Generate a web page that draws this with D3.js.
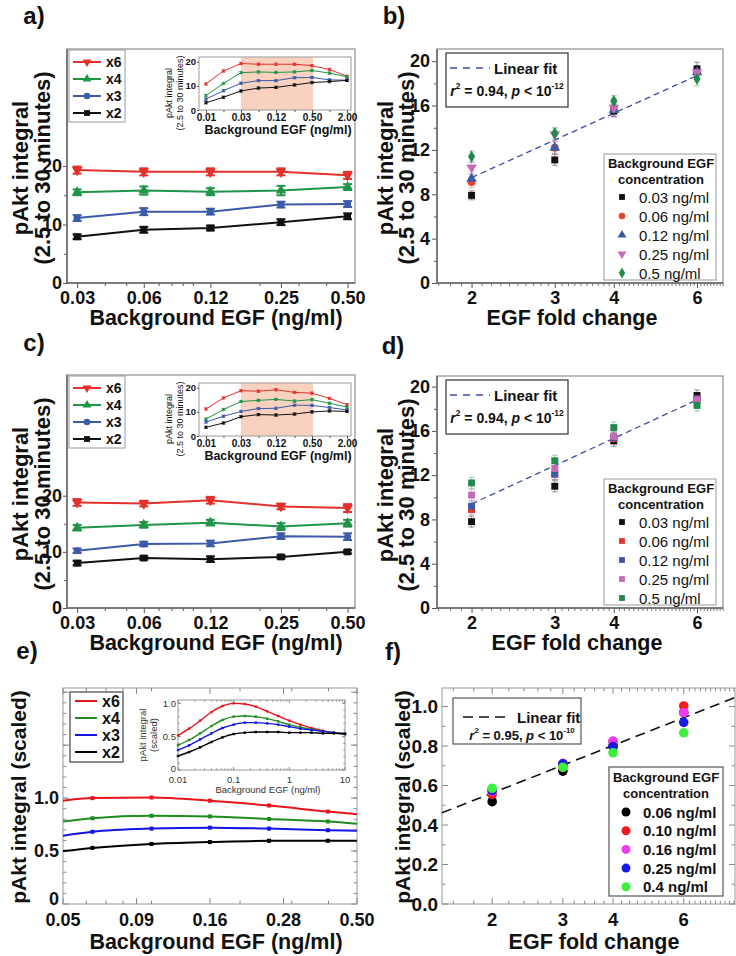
<!DOCTYPE html>
<html><head><meta charset="utf-8">
<script src="https://cdn.jsdelivr.net/npm/d3@7"></script>
<style>body{margin:0;background:#fff}svg{display:block}</style>
</head><body>
<script>
// ================= DATA =================
const concMain = [0.03, 0.06, 0.12, 0.25, 0.5];
const concMainLabels = ["0.03", "0.06", "0.12", "0.25", "0.50"];
const foldNames = ["x6", "x4", "x3", "x2"];
const foldValues = [6, 4, 3, 2];
const foldTicks = [2, 3, 4, 6];

// panel a (main)
const aX6 = [19.3, 19.0, 19.0, 19.0, 18.4];
const aX4 = [15.5, 15.8, 15.6, 15.8, 16.4];
const aX3 = [11.1, 12.2, 12.2, 13.4, 13.5];
const aX2 = [7.9, 9.1, 9.4, 10.4, 11.4];
const aErr6 = [0.6, 0.6, 0.6, 0.6, 0.6];
const aErr4 = [0.5, 0.7, 0.6, 0.8, 0.5];
const aErr3 = [0.5, 0.6, 0.5, 0.5, 0.5];
const aErr2 = [0.4, 0.5, 0.4, 0.5, 0.5];

// insets a / c
const insetConc = [0.0075, 0.015, 0.03, 0.06, 0.12, 0.25, 0.5, 1, 2];
const insetTicks = [0.0075, 0.03, 0.12, 0.5, 2];
const insetTickLabels = ["0.01", "0.03", "0.12", "0.50", "2.00"];
const shadeRange = [0.03, 0.52];
const aInX6 = [10.8, 16.2, 19.3, 19.0, 19.0, 19.0, 18.4, 16.8, 14.0];
const aInX4 = [6.0, 11.0, 15.5, 15.8, 15.6, 15.8, 16.4, 15.3, 13.8];
const aInX3 = [4.5, 8.0, 11.1, 12.2, 12.2, 13.4, 13.5, 12.5, 12.4];
const aInX2 = [3.0, 5.3, 7.9, 9.1, 9.4, 10.4, 11.4, 11.8, 12.3];

// panel c (main)
const cX6 = [18.8, 18.6, 19.2, 18.1, 17.8];
const cX4 = [14.3, 14.8, 15.2, 14.5, 15.1];
const cX3 = [10.2, 11.4, 11.5, 12.8, 12.7];
const cX2 = [8.0, 8.9, 8.7, 9.1, 10.0];
const cErr6 = [0.6, 0.5, 0.6, 0.5, 0.7];
const cErr4 = [0.5, 0.5, 0.5, 0.6, 0.6];
const cErr3 = [0.4, 0.4, 0.5, 0.5, 0.6];
const cErr2 = [0.4, 0.3, 0.5, 0.3, 0.3];
const cInX6 = [11.2, 15.8, 18.8, 18.6, 19.2, 18.1, 17.8, 15.6, 13.0];
const cInX4 = [7.0, 11.0, 14.3, 14.8, 15.2, 14.5, 15.1, 13.6, 12.0];
const cInX3 = [5.8, 8.2, 10.2, 11.4, 11.5, 12.8, 12.7, 11.8, 10.8];
const cInX2 = [3.6, 5.4, 8.0, 8.9, 8.7, 9.1, 10.0, 10.4, 10.2];

// panel d (values at folds 2,3,4,6 for each background concentration)
const concLegend = ["0.03 ng/ml", "0.06 ng/ml", "0.12 ng/ml", "0.25 ng/ml", "0.5 ng/ml"];
const d003 = [7.8, 11.0, 15.1, 19.2];
const d006 = [8.9, 12.1, 15.3, 18.9];
const d012 = [9.2, 12.1, 15.4, 18.9];
const d025 = [10.2, 12.6, 15.5, 18.8];
const d05 = [11.3, 13.3, 16.3, 18.3];
const dErr = [0.5, 0.5, 0.5, 0.5];

// linear fits (value at fold ends)
const fitBX = [2, 6], fitBY = [9.5, 18.7];
const fitDX = [2, 6], fitDY = [9.4, 18.8];

// panel e (model)
const eConc = [0.05, 0.063, 0.1, 0.158, 0.251, 0.398, 0.5];
const eTicks = [0.05, 0.0889, 0.158, 0.281, 0.5];
const eTickLabels = ["0.05", "0.09", "0.16", "0.28", "0.50"];
const eX6 = [0.976, 1.0, 1.006, 0.976, 0.93, 0.873, 0.848];
const eX4 = [0.779, 0.81, 0.833, 0.827, 0.803, 0.779, 0.758];
const eX3 = [0.645, 0.682, 0.712, 0.721, 0.712, 0.697, 0.691];
const eX2 = [0.50, 0.53, 0.567, 0.585, 0.597, 0.597, 0.597];
const eInConc = [0.01, 0.0158, 0.025, 0.04, 0.063, 0.1, 0.158, 0.25, 0.4, 0.63, 1, 1.58, 2.5, 4, 6.3, 10];
const eInX6 = [0.52, 0.62, 0.74, 0.87, 0.96, 1.0, 0.99, 0.95, 0.88, 0.81, 0.74, 0.68, 0.63, 0.59, 0.56, 0.55];
const eInX4 = [0.37, 0.45, 0.55, 0.66, 0.75, 0.80, 0.81, 0.80, 0.77, 0.73, 0.68, 0.64, 0.61, 0.58, 0.56, 0.55];
const eInX3 = [0.30, 0.37, 0.46, 0.55, 0.63, 0.68, 0.71, 0.71, 0.70, 0.68, 0.65, 0.62, 0.60, 0.58, 0.56, 0.54];
const eInX2 = [0.21, 0.27, 0.34, 0.42, 0.49, 0.54, 0.56, 0.57, 0.57, 0.57, 0.56, 0.56, 0.56, 0.55, 0.55, 0.54];

// panel f
const fLegend = ["0.06 ng/ml", "0.10 ng/ml", "0.16 ng/ml", "0.25 ng/ml", "0.4 ng/ml"];
const f006 = [0.518, 0.673, 0.80, 0.97];
const f010 = [0.555, 0.695, 0.822, 1.003];
const f016 = [0.57, 0.712, 0.825, 0.969];
const f025 = [0.575, 0.71, 0.797, 0.92];
const f04 = [0.586, 0.692, 0.766, 0.867];
const fitFX = [1.5, 8.05], fitFY = [0.462, 1.046];

// ================= DRAWING =================
const FONT = "'Liberation Sans', Arial, Helvetica, sans-serif";
const svg = d3.select("body").append("svg").attr("width", 736).attr("height", 956)
  .style("font-family", FONT);
svg.append("rect").attr("width", 736).attr("height", 956).attr("fill", "#fff");

function label(x, y, str, size, opt = {}) {
  const t = svg.append("text").attr("x", x).attr("y", y).attr("font-size", size)
    .attr("font-weight", opt.weight || "bold").attr("text-anchor", opt.anchor || "middle")
    .attr("dominant-baseline", "central").attr("fill", opt.fill || "#111").text(str);
  if (opt.rotate) t.attr("transform", `rotate(-90,${x},${y})`);
  return t;
}
function styleAxis(sel, size, weight, color) {
  sel.select(".domain").remove();
  sel.selectAll(".tick line").attr("stroke", color || "#555");
  sel.selectAll(".tick text").attr("font-size", size).attr("font-weight", weight || "bold")
    .attr("fill", "#111").attr("font-family", FONT);
}
function statText(x, y, size, r2, pexp) {
  const t = svg.append("text").attr("x", x).attr("y", y).attr("font-size", size)
    .attr("font-weight", "bold").attr("text-anchor", "middle").attr("dominant-baseline", "central").attr("fill", "#111");
  t.append("tspan").attr("font-style", "italic").text("r");
  t.append("tspan").attr("font-size", size * 0.6).attr("dy", -size * 0.38).text("2");
  t.append("tspan").attr("dy", size * 0.38).text(" = " + r2 + ", ");
  t.append("tspan").attr("font-style", "italic").text("p");
  t.append("tspan").text(" < 10");
  t.append("tspan").attr("font-size", size * 0.6).attr("dy", -size * 0.38).text(pexp);
}
const symInvTri = { draw(ctx, size) { const s = Math.sqrt(size / (Math.sqrt(3) / 4)); const h = s * Math.sqrt(3) / 2;
  ctx.moveTo(-s / 2, -h / 3); ctx.lineTo(s / 2, -h / 3); ctx.lineTo(0, 2 * h / 3); ctx.closePath(); } };
const symUpTri = { draw(ctx, size) { const s = Math.sqrt(size / (Math.sqrt(3) / 4)); const h = s * Math.sqrt(3) / 2;
  ctx.moveTo(-s / 2, h / 3); ctx.lineTo(s / 2, h / 3); ctx.lineTo(0, -2 * h / 3); ctx.closePath(); } };

const foldColors = ["#e4302b", "#1f9548", "#3b5aa8", "#111111"];
const foldSymbols = [symInvTri, symUpTri, d3.symbolCircle, d3.symbolSquare];

function errBar(g, cx, y0, y1, cap, color, w, op) {
  g.append("line").attr("x1", cx).attr("x2", cx).attr("y1", y0).attr("y2", y1).attr("stroke", color).attr("stroke-width", w).attr("opacity", op);
  [y0, y1].forEach(yy => g.append("line").attr("x1", cx - cap / 2).attr("x2", cx + cap / 2).attr("y1", yy).attr("y2", yy)
    .attr("stroke", color).attr("stroke-width", w).attr("opacity", op));
}

// ---------- panels a / c ----------
function linePanel(P) {
  const L = 67, R = 355;
  const x = d3.scaleLog().domain([0.027, 0.54]).range([L, R]);
  const y = d3.scaleLinear().domain([0, P.ymax]).range([P.bottom, P.top]);
  const g = svg.append("g");
  g.append("rect").attr("x", L).attr("y", P.top).attr("width", R - L).attr("height", P.bottom - P.top)
    .attr("fill", "none").attr("stroke", "#8e8e8e").attr("stroke-width", 1.2);
  g.append("g").attr("transform", `translate(${L},0)`)
    .call(d3.axisLeft(y).tickValues([0, 10, 20]).tickSize(4).tickPadding(1).tickFormat(d3.format("d")))
    .call(s => styleAxis(s, 18));
  g.append("g").attr("transform", `translate(${L},0)`)
    .call(d3.axisLeft(y).tickValues([5, 15]).tickSize(3).tickFormat("")).call(s => styleAxis(s, 0));
  g.append("g").attr("transform", `translate(0,${P.bottom})`)
    .call(d3.axisBottom(x).tickValues(concMain).tickSize(5).tickPadding(3).tickFormat((d, i) => concMainLabels[i]))
    .call(s => styleAxis(s, 18));
  g.append("g").attr("transform", `translate(0,${P.bottom})`)
    .call(d3.axisBottom(x).tickValues([0.04, 0.05, 0.07, 0.08, 0.09, 0.1, 0.2, 0.3, 0.4]).tickSize(3).tickFormat(""))
    .call(s => styleAxis(s, 0));
  g.append("line").attr("x1", L).attr("x2", L).attr("y1", P.top).attr("y2", P.bottom).attr("stroke", "#666").attr("stroke-width", 1.5);
  g.append("line").attr("x1", L).attr("x2", R).attr("y1", P.bottom).attr("y2", P.bottom).attr("stroke", "#666").attr("stroke-width", 1.5);

  P.series.forEach((vals, k) => {
    const col = foldColors[k];
    const pts = concMain.map((c, i) => ({ c, v: vals[i], e: P.err[k][i] }));
    g.append("path").datum(pts).attr("d", d3.line().x(d => x(d.c)).y(d => y(d.v)))
      .attr("fill", "none").attr("stroke", col).attr("stroke-width", 2);
    pts.forEach(d => errBar(g, x(d.c), y(d.v - d.e), y(d.v + d.e), 9, col, 2, 1));
    g.selectAll(null).data(pts).enter().append("path")
      .attr("transform", d => `translate(${x(d.c)},${y(d.v)})`)
      .attr("d", d3.symbol().type(foldSymbols[k]).size(k === 2 ? 40 : 48)).attr("fill", col);
  });

  // legend
  const lt = P.top + 1;
  g.append("rect").attr("x", 69).attr("y", lt).attr("width", 56).attr("height", 72)
    .attr("fill", "#fff").attr("stroke", "#999").attr("stroke-width", 1);
  foldNames.forEach((n, k) => {
    const yy = lt + 12 + k * 17;
    g.append("line").attr("x1", 73).attr("x2", 101).attr("y1", yy).attr("y2", yy).attr("stroke", foldColors[k]).attr("stroke-width", 2);
    g.append("path").attr("transform", `translate(87,${yy})`).attr("d", d3.symbol().type(foldSymbols[k]).size(34)).attr("fill", foldColors[k]);
    g.append("text").attr("x", 106).attr("y", yy).attr("dominant-baseline", "central").attr("font-size", 14)
      .attr("font-weight", "bold").attr("fill", "#111").text(n);
  });

  // inset
  const IL = 199, IR = 351, IT = P.top + 8, IB = P.top + 61;
  const xi = d3.scaleLog().base(2).domain([0.0057, 2.34]).range([IL, IR]);
  const yi = d3.scaleLinear().domain([0, 22]).range([IB, IT]);
  const gi = svg.append("g");
  gi.append("rect").attr("x", xi(shadeRange[0])).attr("y", IT).attr("width", xi(shadeRange[1]) - xi(shadeRange[0]))
    .attr("height", IB - IT).attr("fill", "#f9d2bf");
  gi.append("rect").attr("x", IL).attr("y", IT).attr("width", IR - IL).attr("height", IB - IT)
    .attr("fill", "none").attr("stroke", "#999").attr("stroke-width", 1);
  gi.append("g").attr("transform", `translate(${IL},0)`)
    .call(d3.axisLeft(yi).tickValues([0, 10, 20]).tickSize(2).tickPadding(1).tickFormat(d3.format("d")))
    .call(s => styleAxis(s, 9.5));
  gi.append("g").attr("transform", `translate(0,${IB})`)
    .call(d3.axisBottom(xi).tickValues(insetTicks).tickSize(3).tickPadding(1).tickFormat((d, i) => insetTickLabels[i]))
    .call(s => styleAxis(s, 10));
  gi.append("g").attr("transform", `translate(0,${IB})`)
    .call(d3.axisBottom(xi).tickValues(insetConc.filter(c => !insetTicks.includes(c))).tickSize(2).tickFormat(""))
    .call(s => styleAxis(s, 0));
  P.inset.forEach((vals, k) => {
    const col = foldColors[k];
    const pts = insetConc.map((c, i) => ({ c, v: vals[i] }));
    gi.append("path").datum(pts).attr("d", d3.line().x(d => xi(d.c)).y(d => yi(d.v)))
      .attr("fill", "none").attr("stroke", col).attr("stroke-width", 1);
    pts.forEach(d => errBar(gi, xi(d.c), yi(d.v - 0.5), yi(d.v + 0.5), 4, col, 0.8, 0.8));
    gi.selectAll(null).data(pts).enter().append("rect")
      .attr("x", d => xi(d.c) - 1.3).attr("y", d => yi(d.v) - 1.3).attr("width", 2.6).attr("height", 2.6).attr("fill", col);
  });
  label(169, IT + 36, "pAkt integral", 9, { weight: "normal", rotate: true });
  label(180, IT + 36, "(2.5 to 30 minutes)", 9, { weight: "normal", rotate: true });
  label(278, IB + 20, "Background EGF (ng/ml)", 12.5);

  // axis titles
  label(20, P.top + 119, "pAkt integral", 22, { rotate: true });
  label(42, P.top + 119, "(2.5 to 30 minutes)", 22, { rotate: true });
  label(216, P.bottom + 35, "Background EGF (ng/ml)", 21.5);
}

linePanel({ top: 49, bottom: 283, ymax: 40,
  series: [aX6, aX4, aX3, aX2], err: [aErr6, aErr4, aErr3, aErr2], inset: [aInX6, aInX4, aInX3, aInX2] });
linePanel({ top: 375, bottom: 608, ymax: 41.5,
  series: [cX6, cX4, cX3, cX2], err: [cErr6, cErr4, cErr3, cErr2], inset: [cInX6, cInX4, cInX3, cInX2] });

// ---------- panels b / d ----------
const concColorsB = ["#111111", "#e8402f", "#3b5aa8", "#c46cb6", "#1f8a4b"];
const concSymbolsB = [d3.symbolSquare, d3.symbolCircle, symUpTri, symInvTri, d3.symbolDiamond];
const concColorsD = ["#111111", "#e8362c", "#3d5aa8", "#c46cb6", "#1f8a4b"];

function scatterPanel(P) {
  const L = 437, R = 723;
  const x = d3.scaleLog().domain([1.69, 6.81]).range([L, R]);
  const y = d3.scaleLinear().domain([0, P.ymax]).range([P.bottom, P.top]);
  const g = svg.append("g");
  g.append("rect").attr("x", L).attr("y", P.top).attr("width", R - L).attr("height", P.bottom - P.top)
    .attr("fill", "none").attr("stroke", "#8e8e8e").attr("stroke-width", 1.2);
  g.append("g").attr("transform", `translate(${L},0)`)
    .call(d3.axisLeft(y).tickValues([0, 4, 8, 12, 16, 20]).tickSize(5).tickPadding(2).tickFormat(d3.format("d")))
    .call(s => styleAxis(s, 18));
  g.append("g").attr("transform", `translate(${L},0)`)
    .call(d3.axisLeft(y).tickValues([2, 6, 10, 14, 18]).tickSize(3).tickFormat("")).call(s => styleAxis(s, 0));
  g.append("g").attr("transform", `translate(0,${P.bottom})`)
    .call(d3.axisBottom(x).tickValues(foldTicks).tickSize(5).tickPadding(3).tickFormat(d3.format("d")))
    .call(s => styleAxis(s, 18));
  const minor = d3.range(1.7, 6.81, 0.1).filter(v => !foldTicks.some(t => Math.abs(t - v) < 1e-6));
  g.append("g").attr("transform", `translate(0,${P.bottom})`)
    .call(d3.axisBottom(x).tickValues(minor).tickSize(3).tickFormat("")).call(s => styleAxis(s, 0, "bold", "#777"));
  g.append("line").attr("x1", L).attr("x2", L).attr("y1", P.top).attr("y2", P.bottom).attr("stroke", "#666").attr("stroke-width", 1.5);
  g.append("line").attr("x1", L).attr("x2", R).attr("y1", P.bottom).attr("y2", P.bottom).attr("stroke", "#666").attr("stroke-width", 1.5);

  // fit line
  g.append("line").attr("x1", x(P.fitX[0])).attr("x2", x(P.fitX[1])).attr("y1", y(P.fitY[0])).attr("y2", y(P.fitY[1]))
    .attr("stroke", "#3b4da8").attr("stroke-width", 1.3).attr("stroke-dasharray", "6,4");

  P.series.forEach((vals, j) => {
    const col = P.colors[j];
    foldTicks.forEach((f, i) => {
      const v = vals[i], e = P.err[j][i];
      errBar(g, x(f), y(v - e), y(v + e), 6, col, 1.2, 0.35);
    });
  });
  P.series.forEach((vals, j) => {
    const col = P.colors[j];
    g.selectAll(null).data(foldTicks.map((f, i) => ({ f, v: vals[i] }))).enter().append("path")
      .attr("transform", d => `translate(${x(d.f)},${y(d.v)})`)
      .attr("d", d3.symbol().type(P.symbols[j]).size(P.symbols[j] === d3.symbolDiamond ? 44 : 48)).attr("fill", col);
  });

  // fit box
  const ft = P.top + 4;
  g.append("rect").attr("x", L + 9).attr("y", ft).attr("width", 122).attr("height", 54)
    .attr("fill", "#fff").attr("stroke", "#333").attr("stroke-width", 1.2);
  g.append("line").attr("x1", L + 13).attr("x2", L + 53).attr("y1", ft + 15).attr("y2", ft + 15)
    .attr("stroke", "#3b4da8").attr("stroke-width", 1.5).attr("stroke-dasharray", "7,6");
  label(L + 57, ft + 15, "Linear fit", 15, { anchor: "start" });
  statText(L + 70, ft + 38, 14, "0.94", "-12");

  // legend
  const lb = P.legTop, lx = 604;
  g.append("rect").attr("x", lx).attr("y", lb).attr("width", 112).attr("height", 126)
    .attr("fill", "#fff").attr("stroke", "#999").attr("stroke-width", 1);
  label(lx + 57, lb + 9, "Background EGF", 13);
  label(lx + 57, lb + 25, "concentration", 13);
  concLegend.forEach((n, j) => {
    const yy = lb + 43 + j * 19;
    g.append("path").attr("transform", `translate(${lx + 18},${yy})`)
      .attr("d", d3.symbol().type(P.symbols[j]).size(34)).attr("fill", P.colors[j]);
    label(lx + 35, yy, n, 15, { anchor: "start", weight: "normal" });
  });

  label(385, P.top + 119, "pAkt integral", 22, { rotate: true });
  label(406, P.top + 119, "(2.5 to 30 minutes)", 22, { rotate: true });
  label(P.xlabX, P.bottom + 35, "EGF fold change", 21.5);
}

// panel b uses the same measurements as panel a, grouped by background concentration
const aFold = [aX6, aX4, aX3, aX2];
const aFoldErr = [aErr6, aErr4, aErr3, aErr2];
const bSeries = concMain.map((c, j) => foldTicks.map(f => aFold[foldValues.indexOf(f)][j]));
const bErr = concMain.map((c, j) => foldTicks.map(f => aFoldErr[foldValues.indexOf(f)][j]));
scatterPanel({ top: 49, bottom: 283, ymax: 21.1, series: bSeries, err: bErr,
  colors: concColorsB, symbols: concSymbolsB, fitX: fitBX, fitY: fitBY, legTop: 154, xlabX: 572 });
scatterPanel({ top: 376, bottom: 608, ymax: 20.96, series: [d003, d006, d012, d025, d05],
  err: [dErr, dErr, dErr, dErr, dErr], colors: concColorsD,
  symbols: [d3.symbolSquare, d3.symbolSquare, d3.symbolSquare, d3.symbolSquare, d3.symbolSquare],
  fitX: fitDX, fitY: fitDY, legTop: 479, xlabX: 577 });

// ---------- panel e ----------
const eColors = ["#e8141c", "#1f8c1f", "#1414e6", "#000000"];
function matlabFrame(g, x, y, L, R, T, B, xMajor, xMinor, yMajor, yMinor, tickLen) {
  g.append("rect").attr("x", L).attr("y", T).attr("width", R - L).attr("height", B - T)
    .attr("fill", "none").attr("stroke", "#9a9a9a").attr("stroke-width", 1);
  const tl = tickLen, ml = tickLen * 0.55;
  [[xMajor, tl], [xMinor, ml]].forEach(([vals, len]) => vals.forEach(v => {
    g.append("line").attr("x1", x(v)).attr("x2", x(v)).attr("y1", B).attr("y2", B - len).attr("stroke", "#888");
    g.append("line").attr("x1", x(v)).attr("x2", x(v)).attr("y1", T).attr("y2", T + len).attr("stroke", "#888");
  }));
  [[yMajor, tl], [yMinor, ml]].forEach(([vals, len]) => vals.forEach(v => {
    g.append("line").attr("y1", y(v)).attr("y2", y(v)).attr("x1", L).attr("x2", L + len).attr("stroke", "#888");
    g.append("line").attr("y1", y(v)).attr("y2", y(v)).attr("x1", R).attr("x2", R - len).attr("stroke", "#888");
  }));
}
{
  const L = 63, R = 357, T = 688, B = 904;
  const x = d3.scaleLog().domain([0.05, 0.5]).range([L, R]);
  const y = d3.scaleLinear().domain([0, 2.04]).range([B, T]);
  const g = svg.append("g");
  matlabFrame(g, x, y, L, R, T, B, eTicks, [0.06, 0.07, 0.08, 0.1, 0.2, 0.3, 0.4],
    [0, 0.5, 1.0, 1.5, 2.0], d3.range(0.1, 2.01, 0.1), 6);
  eTicks.forEach((v, i) => label(x(v), B + 16, eTickLabels[i], 18));
  [[0, "0"], [0.5, "0.5"], [1.0, "1.0"]].forEach(([v, s]) => label(L - 4, y(v) - (v === 0 ? 5 : 0), s, 18, { anchor: "end" }));
  [eX6, eX4, eX3, eX2].forEach((vals, k) => {
    const pts = eConc.map((c, i) => ({ c, v: vals[i] }));
    g.append("path").datum(pts).attr("d", d3.line().curve(d3.curveMonotoneX).x(d => x(d.c)).y(d => y(d.v)))
      .attr("fill", "none").attr("stroke", eColors[k]).attr("stroke-width", 2);
    g.selectAll(null).data(pts.slice(1, -1)).enter().append("rect")
      .attr("x", d => x(d.c) - 2).attr("y", d => y(d.v) - 2).attr("width", 4).attr("height", 4).attr("fill", eColors[k]);
  });
  // legend
  g.append("rect").attr("x", 70).attr("y", 692).attr("width", 53).attr("height", 70)
    .attr("fill", "#fff").attr("stroke", "#444").attr("stroke-width", 1.2);
  foldNames.forEach((n, k) => {
    const yy = 701 + k * 17;
    g.append("line").attr("x1", 75).attr("x2", 97).attr("y1", yy).attr("y2", yy).attr("stroke", eColors[k]).attr("stroke-width", 2);
    label(102, yy, n, 16, { anchor: "start" });
  });
  // inset
  const IL = 178, IR = 345, IT = 700, IB = 770;
  const xi = d3.scaleLog().domain([0.01, 10]).range([IL, IR]);
  const yi = d3.scaleLinear().domain([0, 1.05]).range([IB, IT]);
  const gi = svg.append("g");
  const minI = [];
  [0.01, 0.1, 1].forEach(dec => [2, 3, 4, 5, 6, 7, 8, 9].forEach(m => minI.push(dec * m)));
  matlabFrame(gi, xi, yi, IL, IR, IT, IB, [0.01, 0.1, 1, 10], minI, [0, 0.5, 1.0], d3.range(0.1, 1.01, 0.1), 3);
  [[0.01, "0.01"], [0.1, "0.1"], [1, "1"], [10, "10"]].forEach(([v, s]) => label(xi(v), IB + 9.5, s, 9.5, { weight: "normal", fill: "#333" }));
  [[0, "0"], [0.5, "0.5"], [1.0, "1.0"]].forEach(([v, s]) => label(IL - 2, yi(v) - (v === 0 ? 2 : 0), s, 9.5, { anchor: "end", weight: "normal", fill: "#333" }));
  [eInX6, eInX4, eInX3, eInX2].forEach((vals, k) => {
    const pts = eInConc.map((c, i) => ({ c, v: vals[i] }));
    gi.append("path").datum(pts).attr("d", d3.line().curve(d3.curveMonotoneX).x(d => xi(d.c)).y(d => yi(d.v)))
      .attr("fill", "none").attr("stroke", eColors[k]).attr("stroke-width", 1.4);
    gi.selectAll(null).data(pts).enter().append("rect")
      .attr("x", d => xi(d.c) - 1.2).attr("y", d => yi(d.v) - 1.2).attr("width", 2.4).attr("height", 2.4).attr("fill", eColors[k]);
  });
  label(142, 735, "pAkt integral", 9.5, { weight: "normal", rotate: true, fill: "#333" });
  label(153, 735, "(scaled)", 9.5, { weight: "normal", rotate: true, fill: "#333" });
  label(268, 789, "Background EGF (ng/ml)", 9.5, { weight: "normal", fill: "#333" });

  label(18, 797, "pAkt integral (scaled)", 21, { rotate: true });
  label(216, 942, "Background EGF (ng/ml)", 21.5);
}

// ---------- panel f ----------
const fColors = ["#000000", "#f21b1b", "#f03cf0", "#1a1ae6", "#3ef03e"];
{
  const L = 442, R = 735, T = 688, B = 904;
  const x = d3.scaleLog().domain([1.5, 8.05]).range([L, R]);
  const y = d3.scaleLinear().domain([0, 1.094]).range([B, T]);
  const g = svg.append("g");
  const xMin = d3.range(1.6, 8.01, 0.2).filter(v => !foldTicks.some(t => Math.abs(t - v) < 1e-6));
  matlabFrame(g, x, y, L, R, T, B, foldTicks, xMin, [0, 0.2, 0.4, 0.6, 0.8, 1.0], d3.range(0.1, 1.01, 0.2), 6);
  foldTicks.forEach(v => label(x(v), B + 15, String(v), 18.5));
  [0, 0.2, 0.4, 0.6, 0.8, 1.0].forEach(v => label(L - 4, y(v), v.toFixed(1), 19, { anchor: "end" }));
  g.append("line").attr("x1", x(fitFX[0])).attr("x2", x(fitFX[1])).attr("y1", y(fitFY[0])).attr("y2", y(fitFY[1]))
    .attr("stroke", "#111").attr("stroke-width", 1.6).attr("stroke-dasharray", "10,6");
  [f006, f010, f016, f025, f04].forEach((vals, j) => {
    g.selectAll(null).data(foldTicks.map((f, i) => ({ f, v: vals[i] }))).enter().append("circle")
      .attr("cx", d => x(d.f)).attr("cy", d => y(d.v)).attr("r", 4.8).attr("fill", fColors[j]);
  });
  // fit box
  g.append("rect").attr("x", 453).attr("y", 698).attr("width", 128).attr("height", 46)
    .attr("fill", "#fff").attr("stroke", "#555").attr("stroke-width", 1.2);
  g.append("line").attr("x1", 463).attr("x2", 508).attr("y1", 717).attr("y2", 717)
    .attr("stroke", "#111").attr("stroke-width", 1.6).attr("stroke-dasharray", "10,6");
  label(517, 717, "Linear fit", 15, { anchor: "start" });
  statText(522, 735, 13, "0.95", "-10");
  // legend
  g.append("rect").attr("x", 609).attr("y", 767).attr("width", 114).attr("height", 129)
    .attr("fill", "#fff").attr("stroke", "#555").attr("stroke-width", 1.2);
  label(666, 777, "Background EGF", 13);
  label(666, 793, "concentration", 13);
  fLegend.forEach((n, j) => {
    const yy = 812 + j * 18.7;
    g.append("circle").attr("cx", 626).attr("cy", yy).attr("r", 4.5).attr("fill", fColors[j]);
    label(643, yy, n, 15, { anchor: "start" });
  });
  label(402, 797, "pAkt integral (scaled)", 21, { rotate: true });
  label(594, 942, "EGF fold change", 21.5);
}

// panel letters
label(34, 15, "a)", 24);
label(394, 15, "b)", 24);
label(34, 342, "c)", 24);
label(393, 345, "d)", 24);
label(27, 650, "e)", 24);
label(393, 651, "f)", 24);
</script>
</body></html>
